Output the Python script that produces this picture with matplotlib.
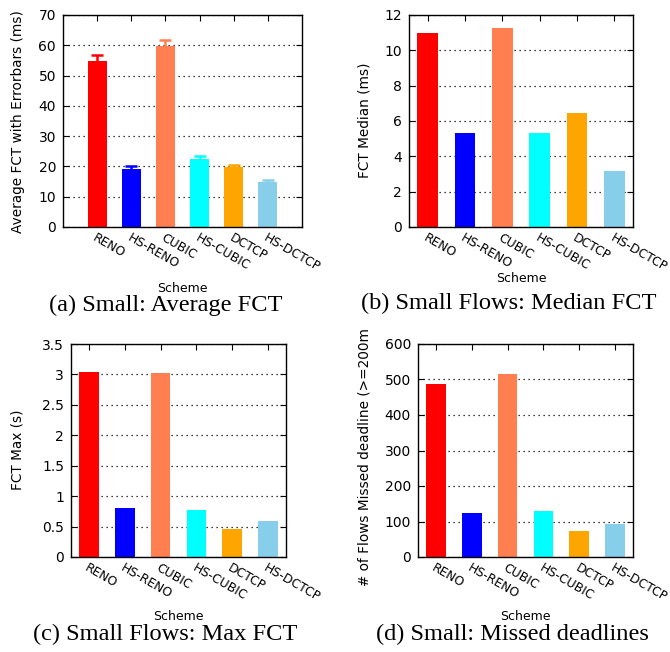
import matplotlib
matplotlib.use("Agg")
import matplotlib.pyplot as plt
import numpy as np

schemes = ["RENO", "HS-RENO", "CUBIC", "HS-CUBIC", "DCTCP", "HS-DCTCP"]
colors = ["#ff0000", "#0000ff", "#ff7f50", "#00ffff", "#ffa500", "#87ceeb"]

avg_fct = [54.7, 19.3, 59.6, 22.5, 19.8, 14.9]
avg_err = [2.1, 0.8, 2.2, 0.8, 0.7, 0.6]
median_fct = [10.98, 5.31, 11.28, 5.31, 6.43, 3.16]
max_fct = [3.04, 0.80, 3.03, 0.78, 0.46, 0.59]
missed = [487, 123, 516, 130, 72, 92]

W, H = 670, 652
fig = plt.figure(figsize=(W / 100, H / 100), dpi=100)


def px_axes(l, t, r, b):
    return fig.add_axes([l / W, 1 - b / H, (r - l) / W, (b - t) / H])


def ftext(x, y, s, **kw):
    fig.text(x / W, 1 - y / H, s, **kw)


def bar_panel(ax, values, ymax, ystep, xlim, yerr=None):
    x = np.arange(len(schemes))
    ax.bar(x, values, width=0.55, color=colors, zorder=2)
    if yerr is not None:
        for xi, v, e, c in zip(x, values, yerr, colors):
            ax.errorbar(xi, v, yerr=e, color=c, capsize=4, elinewidth=1.8,
                        capthick=1.8, zorder=3)
    ax.set_xlim(*xlim)
    ax.set_ylim(0, ymax)
    ax.set_yticks(np.arange(0, ymax + ystep / 2, ystep))
    ax.set_xticks(x)
    ax.set_xticklabels(schemes, rotation=-30, ha="left", va="top",
                       rotation_mode="anchor", fontsize=8.9)
    ax.yaxis.grid(True, linestyle=(0, (1, 3)), color="black", linewidth=0.9,
                  zorder=0)
    ax.set_axisbelow(True)
    ax.tick_params(direction="in", length=4.5, top=True, right=True, pad=5)
    ax.tick_params(axis="y", labelsize=10)
    ax.tick_params(axis="x", pad=3)
    for s in ax.spines.values():
        s.set_linewidth(1)


ax_a = px_axes(63, 15, 302, 227)
bar_panel(ax_a, avg_fct, 70, 10, (-1, 6), yerr=avg_err)
ax_a.set_yticklabels([str(v) for v in range(0, 80, 10)])

ax_b = px_axes(409, 15, 633, 227)
bar_panel(ax_b, median_fct, 12, 2, (-0.5, 5.5))
ax_b.set_yticklabels([str(v) for v in range(0, 14, 2)])

ax_c = px_axes(71, 344, 286, 557)
bar_panel(ax_c, max_fct, 3.5, 0.5, (-0.5, 5.5))
ax_c.set_yticklabels(["0", "0.5", "1", "1.5", "2", "2.5", "3", "3.5"])

ax_d = px_axes(418, 344, 633, 557)
bar_panel(ax_d, missed, 600, 100, (-0.5, 5.5))
ax_d.set_yticklabels([str(v) for v in range(0, 700, 100)])

# axis labels
ylab = dict(fontsize=9.8, ha="center", va="center", rotation=90)
ftext(18, 122, "Average FCT with Errorbars (ms)", **ylab)
ftext(365, 120, "FCT Median (ms)", **ylab)
ftext(18, 450, "FCT Max (s)", **ylab)
ftext(365, 457, "# of Flows Missed deadline (>=200m", **ylab)

xlab = dict(fontsize=9, ha="center", va="center")
ftext(182, 288, "Scheme", **xlab)
ftext(521, 278, "Scheme", **xlab)
ftext(178, 617, "Scheme", **xlab)
ftext(525, 617, "Scheme", **xlab)

# captions
cap = dict(fontsize=17.6, family="Liberation Serif", ha="center", va="center")
ftext(166, 305, "(a) Small: Average FCT", **cap)
ftext(509, 303, "(b) Small Flows: Median FCT", **cap)
ftext(165, 634, "(c) Small Flows: Max FCT", **cap)
ftext(512, 634, "(d) Small: Missed deadlines", **cap)

fig.savefig("out.png", dpi=100)
